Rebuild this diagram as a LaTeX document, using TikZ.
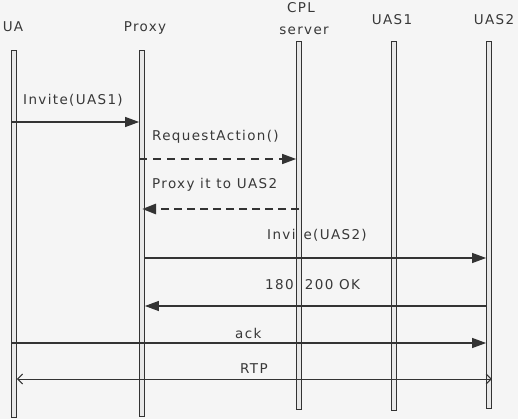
\documentclass[tikz,border=0pt]{standalone}
\usepackage{fontspec}
\setsansfont{DejaVu Sans}[LetterSpace=10]
\usetikzlibrary{arrows.meta}
\begin{document}
\begin{tikzpicture}[x=1pt,y=-1pt,
  bar/.style={draw=black!80,fill=black!9,line width=0.8pt,minimum width=5pt,inner sep=0pt},
  msg/.style={-{Triangle[length=14pt,width=10pt]},draw=black!80,line width=1.2pt},
  req/.style={msg,dash pattern=on 8pt off 6pt,line width=1.6pt},
  resp/.style={msg,dash pattern=on 8pt off 5pt,line width=2.8pt},
  media/.style={{Straight Barb[length=5pt,width=10pt]}-{Straight Barb[length=5pt,width=10pt]},draw=black!80,line width=1pt},
  label/.style={font=\sffamily\fontsize{13.5}{16}\selectfont,text=black!78,inner sep=0pt,anchor=base},
]
\fill[black!4] (0,0) rectangle (518,419);
\useasboundingbox (0,0) rectangle (518,419);
% entity names
\node[label] (uaname) at (13,32) {UA};
\node[label] (proxyname) at (145,32) {Proxy};
\node[label] (cplname) at (301,13) {CPL};
\node[label] (servername) at (304,35) {server};
\node[label] (uas1name) at (392,25) {UAS1};
\node[label] (uas2name) at (494,25) {UAS2};
% message texts
\node[label,anchor=base west] (t1) at (23,105) {Invite(UAS1)};
\node[label,anchor=base west] (t2) at (152,141) {RequestAction()};
\node[label,anchor=base west] (t3) at (152,189) {Proxy it to UAS2};
\node[label,anchor=base west] (t4) at (267,239) {Invite(UAS2)};
\node[label,anchor=base west] (t5) at (265,289) {180, 200 OK};
\node[label,anchor=base west] (t6) at (235,338) {ack};
\node[label,anchor=base west] (t7) at (240,373) {RTP};
% lifelines
\foreach \name/\x/\top/\bot in {ua/14/50/417,proxy/142/50/416,cpl/299/41/409,uas1/394/41/410,uas2/489/41/408}
  \node[bar,minimum height={(\bot-\top)*1pt}] (\name) at (\x,{(\top+\bot)/2}) {};
% messages
\draw[msg] (ua.west |- 0,122) -- (proxy.west |- 0,122);
\draw[req] (proxy.west |- 0,159) -- (cpl.west |- 0,159);
\draw[resp] (cpl.center |- 0,209) -- (proxy.center |- 0,209);
\draw[msg] (proxy.east |- 0,258) -- (uas2.west |- 0,258);
\draw[msg] (uas2.west |- 0,306) -- (proxy.east |- 0,306);
\draw[msg] (ua.west |- 0,343) -- (uas2.west |- 0,343);
\draw[media] (ua.east |- 0,379) -- (uas2.east |- 0,379);
\end{tikzpicture}
\end{document}
